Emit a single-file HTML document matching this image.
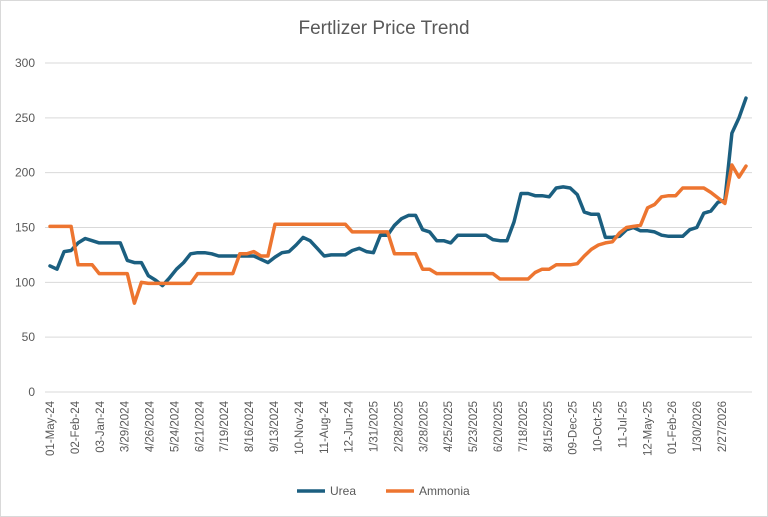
<!DOCTYPE html>
<html><head><meta charset="utf-8"><style>
body{margin:0;background:#fff;}
svg{display:block;font-family:"Liberation Sans",sans-serif;}
</style></head><body>
<svg id="chart" width="768" height="517">
<rect x="0.5" y="0.5" width="767" height="516" fill="#fff" stroke="#d9d9d9"/>
<text x="384" y="34" text-anchor="middle" font-size="19" fill="#595959">Fertlizer Price Trend</text>
<g id="grid"></g><g id="yaxis"></g><g id="xaxis"></g><g id="series"></g>
<g>
<g><line x1="297" y1="491" x2="325" y2="491" stroke="#1b5f80" stroke-width="3.5"/><text x="330" y="495" font-size="12" fill="#595959">Urea</text></g>
<g><line x1="386" y1="491" x2="414" y2="491" stroke="#ed7530" stroke-width="3.5"/><text x="419" y="495" font-size="12" fill="#595959">Ammonia</text></g>
</g>
</svg>
<script>
const xLabels=["01-May-24","02-Feb-24","03-Jan-24","3/29/2024","4/26/2024","5/24/2024","6/21/2024","7/19/2024","8/16/2024","9/13/2024","10-Nov-24","11-Aug-24","12-Jun-24","1/31/2025","2/28/2025","3/28/2025","4/25/2025","5/23/2025","6/20/2025","7/18/2025","8/15/2025","09-Dec-25","10-Oct-25","11-Jul-25","12-May-25","01-Feb-26","1/30/2026","2/27/2026"];
const yTicks=[0,50,100,150,200,250,300];
const urea=[115,112,128,129,136,140,138,136,136,136,136,120,118,118,106,102,97,104,112,118,126,127,127,126,124,124,124,124,124,124,121,118,123,127,128,134,141,138,131,124,125,125,125,129,131,128,127,143,143,152,158,161,161,148,146,138,138,136,143,143,143,143,143,139,138,138,155,181,181,179,179,178,186,187,186,180,164,162,162,141,141,142,148,150,147,147,146,143,142,142,142,148,150,163,165,173,175,236,250,268];
const ammonia=[151,151,151,151,116,116,116,108,108,108,108,108,81,100,99,99,99,99,99,99,99,108,108,108,108,108,108,126,126,128,124,124,153,153,153,153,153,153,153,153,153,153,153,146,146,146,146,146,146,126,126,126,126,112,112,108,108,108,108,108,108,108,108,108,103,103,103,103,103,109,112,112,116,116,116,117,124,130,134,136,137,145,150,151,152,168,171,178,179,179,186,186,186,186,182,177,172,207,196,206];
const NS="http://www.w3.org/2000/svg";
const X0=50,X1=746,Y0=392,Y1=63;
function xs(i,n){return X0+(X1-X0)*i/(n-1);}
function ys(v){return Y0-(Y0-Y1)*v/300;}
function lx(k){return X0+(722-X0)*k/(xLabels.length-1);}
const grid=document.getElementById('grid'),ya=document.getElementById('yaxis'),xa=document.getElementById('xaxis'),ser=document.getElementById('series');
yTicks.forEach(t=>{
 const l=document.createElementNS(NS,'line');
 l.setAttribute('x1',45);l.setAttribute('x2',752);l.setAttribute('y1',ys(t));l.setAttribute('y2',ys(t));
 l.setAttribute('stroke','#d9d9d9');l.setAttribute('stroke-width','1');
 
 
 grid.appendChild(l);
 const tx=document.createElementNS(NS,'text');
 tx.setAttribute('x',35);tx.setAttribute('y',ys(t)+4);tx.setAttribute('text-anchor','end');
 tx.setAttribute('font-size','12');tx.setAttribute('fill','#595959');tx.textContent=t;
 
 
 ya.appendChild(tx);
});
xLabels.forEach((s,k)=>{
 const tx=document.createElementNS(NS,'text');
 const x=lx(k)+4,y=401;
 tx.setAttribute('x',x);tx.setAttribute('y',y);tx.setAttribute('text-anchor','end');
 tx.setAttribute('transform','rotate(-90 '+x+' '+y+')');
 tx.setAttribute('font-size','11.5');tx.setAttribute('fill','#595959');tx.textContent=s;
 
 
 xa.appendChild(tx);
});
function line(data,color,name){
 const p=document.createElementNS(NS,'polyline');
 p.setAttribute('points',data.map((v,i)=>xs(i,data.length).toFixed(1)+','+ys(v).toFixed(1)).join(' '));
 p.setAttribute('fill','none');p.setAttribute('stroke',color);p.setAttribute('stroke-width','3.5');
 p.setAttribute('stroke-linejoin','round');p.setAttribute('stroke-linecap','round');
 
 
 ser.appendChild(p);
}
line(urea,'#1b5f80','urea-line');
line(ammonia,'#ed7530','ammonia-line');
</script>
</body></html>
